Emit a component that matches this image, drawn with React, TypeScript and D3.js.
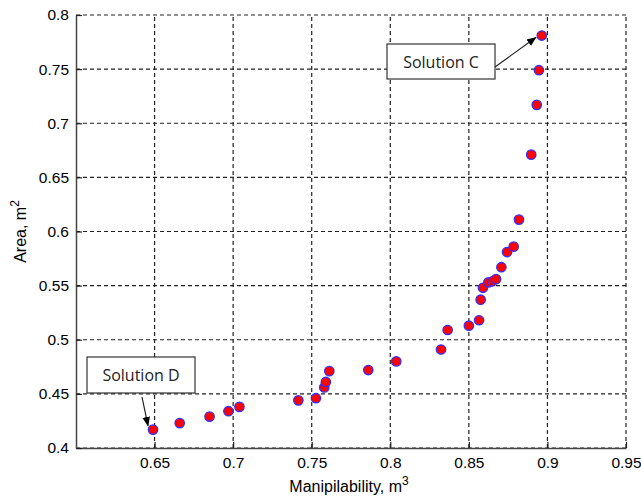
import * as d3 from 'd3';
import React, { useEffect, useRef } from 'react';

// pareto points
const manipVals = [0.649, 0.666, 0.685, 0.697, 0.704, 0.7415, 0.7527, 0.758, 0.759, 0.7612, 0.786, 0.8038,
  0.8323, 0.8365, 0.850, 0.8565, 0.8575, 0.859, 0.8624, 0.865, 0.8673, 0.8707, 0.8743, 0.8785, 0.8819,
  0.8897, 0.8932, 0.8946, 0.8964];
const areaVals = [0.417, 0.423, 0.429, 0.434, 0.438, 0.444, 0.446, 0.456, 0.461, 0.471, 0.472, 0.480,
  0.491, 0.509, 0.513, 0.518, 0.537, 0.548, 0.553, 0.554, 0.556, 0.567, 0.581, 0.586, 0.611,
  0.671, 0.717, 0.749, 0.781];

const xTicks = [0.65, 0.7, 0.75, 0.8, 0.85, 0.9, 0.95];
const yTicks = [0.4, 0.45, 0.5, 0.55, 0.6, 0.65, 0.7, 0.75, 0.8];

function drawChart(node) {
  const width = 641, height = 500;
  const left = 76, right = 626, top = 15, bottom = 448;
  const font = 'Liberation Sans, Arial, sans-serif';

  const x = d3.scaleLinear().domain([0.6, 0.95]).range([left, right]);
  const y = d3.scaleLinear().domain([0.4, 0.8]).range([bottom, top]);

  const svg = d3.select(node);
  svg.selectAll('*').remove();
  svg.attr('width', width).attr('height', height);

  svg.append('rect').attr('width', width).attr('height', height).attr('fill', 'white');

  const defs = svg.append('defs');
  defs.append('marker')
    .attr('id', 'arrowhead')
    .attr('viewBox', '0 0 10 10')
    .attr('refX', 9).attr('refY', 5)
    .attr('markerWidth', 8).attr('markerHeight', 8)
    .attr('orient', 'auto')
    .append('path').attr('d', 'M0,1 L10,5 L0,9 z').attr('fill', 'black');

  // dashed grid
  const grid = svg.append('g').attr('stroke', '#222').attr('stroke-width', 1.2).attr('stroke-dasharray', '4,3');
  grid.selectAll('.vg').data(xTicks).join('line')
    .attr('x1', d => x(d)).attr('x2', d => x(d)).attr('y1', bottom).attr('y2', top);
  grid.selectAll('.hg').data(yTicks).join('line')
    .attr('x1', left).attr('x2', right).attr('y1', d => y(d)).attr('y2', d => y(d));

  // axes
  const xAxis = d3.axisBottom(x).tickValues(xTicks).tickSizeInner(-6).tickSizeOuter(0).tickPadding(9)
    .tickFormat(d => String(d));
  const yAxis = d3.axisLeft(y).tickValues(yTicks).tickSizeInner(-6).tickSizeOuter(0).tickPadding(7)
    .tickFormat(d => String(d));

  const gx = svg.append('g').attr('transform', `translate(0,${bottom})`).call(xAxis);
  const gy = svg.append('g').attr('transform', `translate(${left},0)`).call(yAxis);
  [gx, gy].forEach(g => {
    g.select('.domain').attr('stroke', '#444').attr('stroke-width', 1.5);
    g.selectAll('.tick line').attr('stroke', '#222').attr('stroke-width', 1.2);
    g.selectAll('.tick text').attr('fill', '#000').attr('font-family', font)
      .attr('font-size', 15.5);
  });

  // axis labels
  const xl = svg.append('text').attr('x', (left + right) / 2 - 2).attr('y', 492)
    .attr('text-anchor', 'middle').attr('font-family', font)
    .attr('font-size', 16).attr('fill', '#000');
  xl.append('tspan').text('Manipilability, m');
  xl.append('tspan').attr('dy', -7).attr('font-size', 12).text('3');

  const yl = svg.append('text').attr('transform', `translate(26,${(top + bottom) / 2}) rotate(-90)`)
    .attr('text-anchor', 'middle').attr('font-family', font)
    .attr('font-size', 16).attr('fill', '#000');
  yl.append('tspan').text('Area, m');
  yl.append('tspan').attr('dy', -7).attr('font-size', 12).text('2');

  // points
  const pts = manipVals.map((m, i) => ({ m, a: areaVals[i] }));
  svg.append('g').selectAll('circle').data(pts).join('circle')
    .attr('cx', d => x(d.m)).attr('cy', d => y(d.a)).attr('r', 4.7)
    .attr('fill', '#ff0000').attr('stroke', '#3030ff').attr('stroke-width', 1.3);

  // annotations
  const notes = [
    { label: 'Solution C', bx: 387, by: 44, bw: 108, bh: 35, fx: 495, fy: 67, pi: pts.length - 1, off: [-6, 2] },
    { label: 'Solution D', bx: 87, by: 357, bw: 108, bh: 36, fx: 142, fy: 397, pi: 0, off: [-5, -4] }
  ];
  notes.forEach(n => {
    const p = pts[n.pi];
    svg.append('line')
      .attr('x1', n.fx).attr('y1', n.fy)
      .attr('x2', x(p.m) + n.off[0]).attr('y2', y(p.a) + n.off[1])
      .attr('stroke', '#222').attr('stroke-width', 1.2)
      .attr('marker-end', 'url(#arrowhead)');
    svg.append('rect').attr('x', n.bx).attr('y', n.by).attr('width', n.bw).attr('height', n.bh)
      .attr('fill', 'white').attr('stroke', '#333').attr('stroke-width', 1.2);
    svg.append('text').attr('x', n.bx + n.bw / 2).attr('y', n.by + n.bh / 2 + 6)
      .attr('text-anchor', 'middle').attr('font-family', 'Open Sans, Liberation Sans, sans-serif')
      .attr('font-size', 16).attr('fill', '#222').text(n.label);
  });
}

function App() {
  const ref = useRef(null);
  useEffect(() => drawChart(ref.current));
  return <svg ref={ref} style={{ position: 'absolute', left: 0, top: 0 }}></svg>;
}

export default App;
